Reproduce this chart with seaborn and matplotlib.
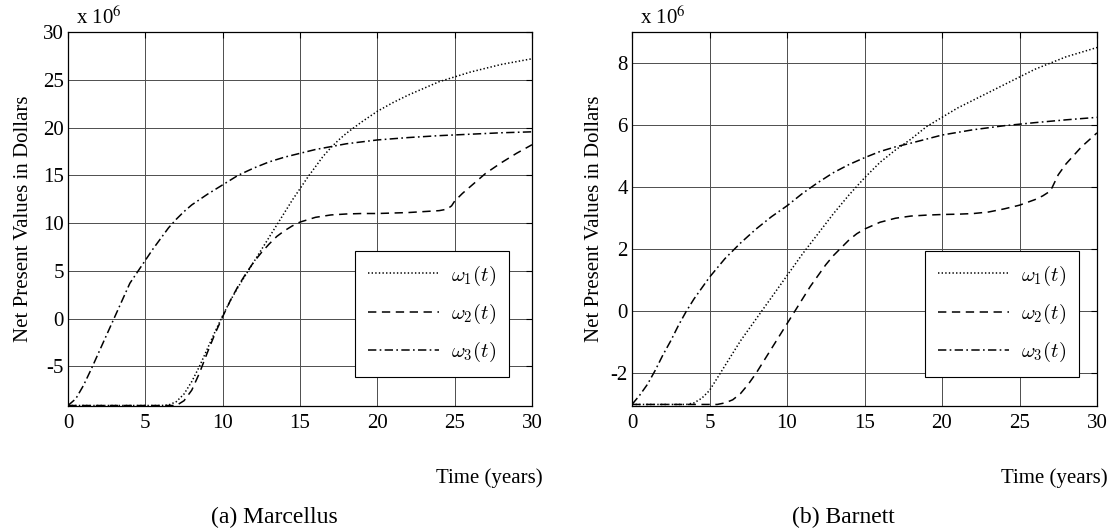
import matplotlib
matplotlib.use("Agg")
import matplotlib.pyplot as plt
import seaborn as sns

# ---- Marcellus (values in millions of dollars) ----
marc_t1 = [0, 6, 6.5, 7, 7.5, 8, 8.5, 9, 9.5, 10, 10.5, 11, 11.5, 12, 12.5, 13, 13.5, 14,
           14.5, 15, 15.5, 16, 16.5, 17, 17.5, 18, 18.5, 19, 20, 21, 22, 23, 24, 25, 26,
           27, 28, 29, 30]
marc_w1 = [-9.1, -9.1, -9.05, -8.7, -7.9, -6.6, -5.0, -3.2, -1.4, 0.3, 1.9, 3.3, 4.6, 5.9,
           7.2, 8.5, 9.8, 11.1, 12.4, 13.6, 14.8, 15.9, 17.0, 17.9, 18.7, 19.4, 20.0, 20.6,
           21.7, 22.6, 23.4, 24.1, 24.8, 25.3, 25.8, 26.2, 26.6, 26.9, 27.2]

marc_t2 = [0, 7, 7.5, 8, 8.5, 9, 9.5, 10, 10.5, 11, 11.5, 12, 12.5, 13, 13.5, 14, 14.5, 15,
           16, 17, 18, 19, 20, 21, 22, 23, 24, 24.5, 24.8, 25, 25.5, 26, 27, 28, 29, 30]
marc_w2 = [-9.1, -9.1, -8.6, -7.5, -5.7, -3.6, -1.6, 0.2, 1.9, 3.4, 4.7, 5.9, 6.9, 7.8, 8.6,
           9.2, 9.7, 10.1, 10.6, 10.85, 10.95, 11.0, 11.0, 11.05, 11.1, 11.2, 11.3, 11.45,
           11.8, 12.3, 13.1, 13.8, 15.2, 16.3, 17.3, 18.2]

marc_t3 = [0, 0.5, 1, 1.5, 2, 2.5, 3, 3.5, 4, 4.5, 5, 5.5, 6, 6.5, 7, 7.5, 8, 9, 10, 11, 12,
           13, 14, 15, 16, 17, 18, 19, 20, 22, 24, 26, 28, 30]
marc_w3 = [-9.1, -8.4, -7.0, -5.3, -3.5, -1.7, 0.1, 1.9, 3.7, 4.9, 6.1, 7.3, 8.4, 9.5, 10.4,
           11.2, 11.9, 13.0, 14.0, 15.0, 15.75, 16.4, 16.9, 17.3, 17.7, 18.0, 18.3, 18.5,
           18.7, 18.95, 19.15, 19.3, 19.45, 19.55]

# ---- Barnett (values in millions of dollars) ----
barn_t1 = [0, 3.5, 4, 4.5, 5, 5.5, 6, 6.5, 7, 7.5, 8, 8.5, 9, 9.5, 10, 11, 12, 13, 14, 15,
           16, 17, 18, 19, 20, 21, 22, 23, 24, 25, 26, 27, 28, 29, 30]
barn_w1 = [-3.0, -3.0, -2.95, -2.8, -2.55, -2.15, -1.75, -1.35, -0.95, -0.6, -0.25, 0.1,
           0.45, 0.8, 1.15, 1.85, 2.5, 3.15, 3.75, 4.3, 4.8, 5.2, 5.55, 5.95, 6.25, 6.55,
           6.8, 7.05, 7.3, 7.55, 7.8, 8.0, 8.2, 8.35, 8.5]

barn_t2 = [0, 5.5, 6, 6.5, 7, 7.5, 8, 8.5, 9, 9.5, 10, 10.5, 11, 11.5, 12, 12.5, 13, 13.5,
           14, 14.5, 15, 16, 17, 18, 19, 20, 21, 22, 23, 24, 25, 26, 26.5, 27, 27.5, 28,
           29, 30]
barn_w2 = [-3.0, -3.0, -2.95, -2.85, -2.65, -2.35, -2.0, -1.6, -1.2, -0.8, -0.4, 0.0, 0.4,
           0.8, 1.15, 1.5, 1.8, 2.05, 2.3, 2.5, 2.65, 2.87, 3.0, 3.07, 3.1, 3.12, 3.13, 3.15,
           3.2, 3.3, 3.42, 3.6, 3.72, 3.88, 4.4, 4.75, 5.3, 5.75]

barn_t3 = [0, 0.5, 1, 1.5, 2, 2.5, 3, 3.5, 4, 4.5, 5, 6, 7, 8, 9, 10, 11, 12, 13, 14, 15,
           16, 17, 18, 19, 20, 22, 24, 26, 28, 30]
barn_w3 = [-3.0, -2.7, -2.35, -1.9, -1.4, -0.95, -0.45, 0.0, 0.4, 0.75, 1.1, 1.7, 2.2, 2.65,
           3.05, 3.4, 3.8, 4.15, 4.47, 4.73, 4.95, 5.15, 5.3, 5.42, 5.55, 5.68, 5.85, 5.98,
           6.08, 6.17, 6.25]

series_labels = [r"$\omega_1(t)$", r"$\omega_2(t)$", r"$\omega_3(t)$"]
x_ticks = [0, 5, 10, 15, 20, 25, 30]
marc_yticks = [-5, 0, 5, 10, 15, 20, 25, 30]
barn_yticks = [-2, 0, 2, 4, 6, 8]
panel_captions = ["(a) Marcellus", "(b) Barnett"]

sns.set_theme(style="white")
plt.rcParams.update({
    "font.family": ["Liberation Serif", "DejaVu Serif"],
    "mathtext.fontset": "cm",
    "font.size": 15,
    "lines.scale_dashes": False,
    "axes.edgecolor": "black",
    "axes.linewidth": 0.9,
    "xtick.color": "black",
    "ytick.color": "black",
    "text.color": "black",
    "axes.labelcolor": "black",
})

line_styles = [(0, (1.0, 1.6)), (0, (6.0, 4.0)), (0, (6.0, 2.4, 1.2, 2.4))]

fig = plt.figure(figsize=(11.13, 5.31), dpi=100)
ax_a = fig.add_axes([68 / 1113, 125 / 531, 464 / 1113, 374 / 531])
ax_b = fig.add_axes([632 / 1113, 125 / 531, 465 / 1113, 374 / 531])

panels = [
    (ax_a, [(marc_t1, marc_w1), (marc_t2, marc_w2), (marc_t3, marc_w3)],
     marc_yticks, (-9.15, 30), 0.950, 7),
    (ax_b, [(barn_t1, barn_w1), (barn_t2, barn_w2), (barn_t3, barn_w3)],
     barn_yticks, (-3.05, 9.0), 0.961, 5),
]

for ax, curves, yticks, ylim, leg_right, ypad in panels:
    for (t, w), ls, lab in zip(curves, line_styles, series_labels):
        sns.lineplot(x=t, y=w, ax=ax, color="black", linewidth=1.1,
                     linestyle=ls, label=lab, sort=False, errorbar=None)
    ax.set_xlim(0, 30)
    ax.set_ylim(*ylim)
    ax.set_xticks(x_ticks)
    ax.set_yticks(yticks)
    ax.set_xticklabels([str(v) for v in x_ticks])
    ax.set_yticklabels([str(v) for v in yticks])
    ax.grid(True, color="0.3", linewidth=0.7)
    ax.set_axisbelow(True)
    ax.tick_params(axis="both", direction="in", length=4, width=0.8,
                   labelsize=15, top=True, right=True)
    ax.tick_params(axis="x", pad=6)
    ax.tick_params(axis="y", pad=3)
    for sp in ax.spines.values():
        sp.set_visible(True)
        sp.set_color("black")
    ax.set_xlabel("")
    ax.set_ylabel("Net Present Values in Dollars", fontsize=15, labelpad=ypad)
    ax.annotate("Time (years)", xy=(1, 0), xycoords="axes fraction",
                xytext=(8, -52), textcoords="offset points",
                ha="right", va="center", fontsize=15)
    ax.annotate(r"x 10$^{6}$", xy=(0, 1), xycoords="axes fraction",
                xytext=(6, 2), textcoords="offset points",
                ha="left", va="bottom", fontsize=15, math_fontfamily="stix")
    leg = ax.legend(loc="lower right", bbox_to_anchor=(leg_right, 0.078),
                    frameon=True, fancybox=False, framealpha=1, edgecolor="black",
                    fontsize=15, handlelength=3.4, handletextpad=0.6,
                    labelspacing=0.68, borderpad=0.6, borderaxespad=0)
    leg.get_frame().set_linewidth(0.8)

fig.text(274 / 1113, 1 - 517 / 531, panel_captions[0], ha="center", va="center", fontsize=17)
fig.text(843 / 1113, 1 - 517 / 531, panel_captions[1], ha="center", va="center", fontsize=17)

fig.savefig("out.png", dpi=100, facecolor="white")
